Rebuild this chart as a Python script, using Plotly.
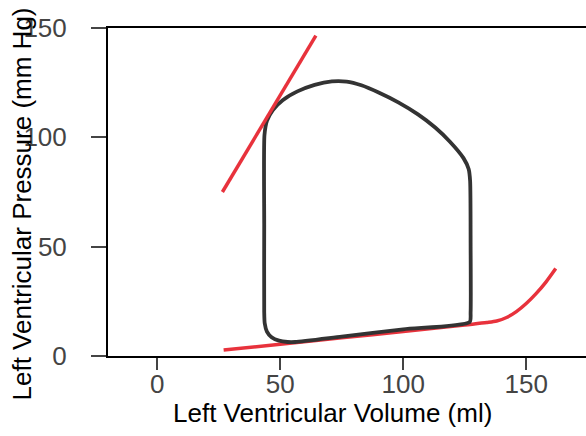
import plotly.graph_objects as go

# ESPVR (end-systolic pressure-volume relation)
espvr_vol = [26.5, 64.5]
espvr_pres = [75.0, 146.5]

# EDPVR (end-diastolic pressure-volume relation)
edpvr_vol = [27, 50, 75, 100, 125, 134, 138, 142, 146, 150, 154, 158, 162]
edpvr_pres = [2.7, 5.4, 8.3, 11.2, 14.2, 15.3, 16.0, 17.6, 20.3, 24.0, 28.5, 33.8, 40.0]

# Pressure-volume loop
loop_vol = [56.1, 75, 100, 127.0, 127.4, 127.4, 127.2, 126.6, 124.5, 119, 113, 106,
            98, 90, 83, 77, 71, 64, 57, 51, 47, 44.6, 43.6, 43.5, 43.5,
            43.7, 44.6, 46.5, 49.5, 53, 56.1]
loop_pres = [6.4, 8.9, 12.2, 15.5, 20, 50, 80, 85.5, 90.5, 98, 104.5, 110.5,
             116, 120.5, 123.8, 125.5, 125.6, 124, 121, 117, 112.5, 107.5, 101, 60, 20,
             15, 11.2, 8.6, 7.0, 6.4, 6.4]

x_ticks = [0, 50, 100, 150]
y_ticks = [0, 50, 100, 150]

RED = "#e8323c"
BLACK = "#333333"

fig = go.Figure()
fig.add_trace(go.Scatter(x=edpvr_vol, y=edpvr_pres, mode="lines",
                         line=dict(color=RED, width=3.5, shape="spline", smoothing=0.8),
                         showlegend=False, hoverinfo="skip"))
fig.add_trace(go.Scatter(x=loop_vol, y=loop_pres, mode="lines",
                         line=dict(color=BLACK, width=3.8, shape="spline", smoothing=0.6),
                         showlegend=False, hoverinfo="skip"))
fig.add_trace(go.Scatter(x=espvr_vol, y=espvr_pres, mode="lines",
                         line=dict(color=RED, width=3.5),
                         showlegend=False, hoverinfo="skip"))

tickfont = dict(family="Liberation Sans, Arial, sans-serif", size=26, color="#444444")

fig.update_layout(
    width=586, height=436,
    margin=dict(l=108, r=0, t=28, b=80, autoexpand=False),
    plot_bgcolor="white", paper_bgcolor="white",
    font=dict(family="Liberation Sans, Arial, sans-serif"),
    xaxis=dict(range=[-20, 174.3], tickvals=x_ticks, ticktext=[str(v) for v in x_ticks],
               showgrid=False, zeroline=False, showline=True, linecolor="black",
               linewidth=2, mirror=True, ticks="outside", ticklen=12, tickwidth=2,
               tickcolor="#444444", tickfont=tickfont, automargin=False,
               ticklabelstandoff=-8),
    yaxis=dict(range=[0, 150], tickvals=y_ticks, ticktext=[str(v) for v in y_ticks],
               showgrid=False, zeroline=False, showline=True, linecolor="black",
               linewidth=2, ticks="outside", ticklen=15, tickwidth=2,
               tickcolor="#444444", tickfont=tickfont, ticklabelstandoff=19,
               automargin=False),
    annotations=[
        dict(text="Left Ventricular Volume (ml)", xref="paper", yref="paper",
             x=(332 - 108) / 478, y=(356 - 413) / 328, xanchor="center", yanchor="middle",
             showarrow=False, font=dict(size=26, color="black",
                                        family="Liberation Sans, Arial, sans-serif")),
        dict(text="Left Ventricular Pressure (mm Hg)", xref="paper", yref="paper",
             x=(21 - 108) / 478, y=(356 - 204.5) / 328, xanchor="center", yanchor="middle",
             textangle=-90, showarrow=False,
             font=dict(size=26, color="black",
                       family="Liberation Sans, Arial, sans-serif")),
    ],
)

fig.write_html("out.html", config={"displayModeBar": False},
               post_script="document.body.style.margin='0';")
